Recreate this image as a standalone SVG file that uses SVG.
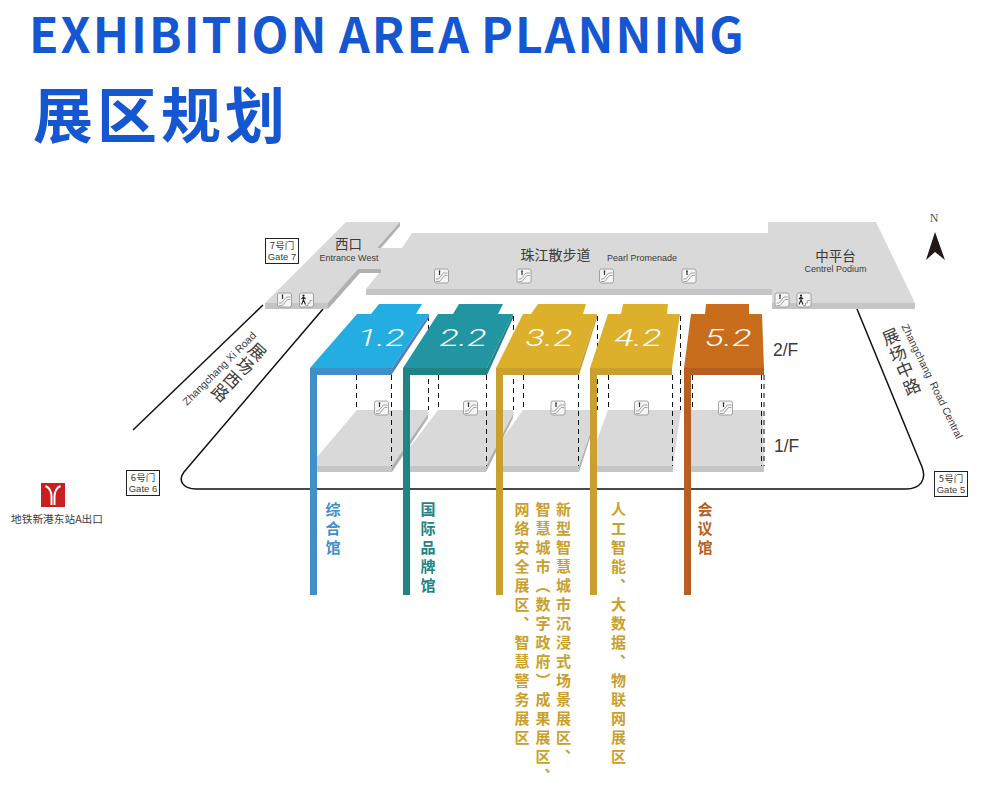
<svg xmlns="http://www.w3.org/2000/svg" xmlns:xlink="http://www.w3.org/1999/xlink" width="1006" height="786" viewBox="0 0 1006 786">
<style>
text{font-family:"Liberation Sans","Noto Sans CJK SC",sans-serif;fill:#3e3a39}
.cjk{font-family:"Noto Sans CJK SC",sans-serif}
.title{font-family:"Noto Sans CJK SC",sans-serif;font-weight:700;fill:#1557d0}
.top{fill:#d9d9d9}.band{fill:#c4c5c5}.side{fill:#b0b0b0}
.en{font-size:9px;text-anchor:middle}
.zh{font-family:"Noto Sans CJK SC",sans-serif;font-size:13.5px;text-anchor:middle}
.gate{font-size:9.5px;text-anchor:middle}
.num{font-family:Roboto,"Liberation Sans",sans-serif;font-weight:300;font-size:24px;font-style:italic;fill:#fff;text-anchor:middle}
.v{font-family:"Noto Sans CJK SC",sans-serif;font-weight:700;font-size:15px;letter-spacing:4px;writing-mode:vertical-rl}
.floor{font-size:17.5px}
.road{fill:none;stroke:#111;stroke-width:1.5}
.dash{stroke:#111;stroke-width:1;stroke-dasharray:5 4;fill:none}
.rz{font-family:"Noto Sans CJK SC",sans-serif;font-size:17px;text-anchor:middle}
</style>
<defs>
<g id="esc">
<rect x="-7" y="-7" width="14" height="14" rx="2" fill="#f5f5f5" stroke="#8f8f8f" stroke-width=".8"/>
<path d="M-5.500 5.500H-2L3 -.5H6M-5.500 3H-3L2 -3H6" fill="none" stroke="#8f8f8f" stroke-width=".8"/>
<path d="M-2 -5V-1" stroke="#333" stroke-width="1.200"/><circle cx="-2" cy="-5" r=".8" fill="#333"/>
</g>
<g id="stair">
<rect x="-7" y="-7" width="14" height="14" rx="2" fill="#f5f5f5" stroke="#8f8f8f" stroke-width=".8"/>
<path d="M-1 5.500H1.500V3H3.500V.5H6" fill="none" stroke="#8f8f8f" stroke-width=".8"/>
<circle cx="-3" cy="-4.500" r="1.100" fill="#222"/>
<path d="M-3 -3L-3 0L-5 4.500M-3 0L-1 4.500M-5 -1L-3 -3L-1 -1" fill="none" stroke="#222" stroke-width="1.100"/>
</g>
</defs>
<rect width="1006" height="786" fill="#fff"/>

<g id="title">
<text class="title" y="53" font-size="48" letter-spacing="2.05"><tspan x="29">EXHIBITION</tspan> <tspan x="339">AREA</tspan> <tspan x="481">PLANNING</tspan></text>
<text class="title" x="33" y="138" font-size="60" letter-spacing="4">展区规划</text>
</g>

<g id="connectors">
<path class="road" d="M133 430L263 305"/>
<path class="road" d="M323 309L184 472C177 481 184 489 196 489H906C920 489 927 480 922 467L857 309"/>
</g>

<g id="floor-1f">
<path class="top" d="M357 410H428V414L392 466H317V457Z"/>
<path class="side" d="M428 410V414L392 466V472L428 418Z"/>
<rect class="band" x="317" y="466" width="75" height="6"/>
<path class="top" d="M438 410H513V414L486 466H410V447Z"/>
<path class="side" d="M513 410V414L486 466V472L513 418Z"/>
<rect class="band" x="410" y="466" width="76" height="6"/>
<path class="top" d="M523 410H590V434L579 466H503V438Z"/>
<path class="side" d="M590 434L579 466V472L590 438Z"/>
<rect class="band" x="503" y="466" width="76" height="6"/>
<path class="top" d="M608 410H681L673 466H597V440Z"/>
<rect class="band" x="597" y="466" width="76" height="6"/>
<path class="top" d="M691 410H763L764 466H691Z"/>
<rect class="band" x="691" y="466" width="73" height="6"/>
</g>

<g id="dashes">
<path class="dash" d="M356.500 375V410M391.500 375V466M428.500 316V410M438.500 375V410M486.500 375V466M513.500 316V410M523.500 375V410M578.500 375V466M597.500 316V410M608.500 375V410M672.500 375V466M680.500 316V410M692.500 375V410M761.500 375V466M764 375V466"/>
</g>

<g id="pearl-promenade">
<path class="top" d="M412 233H768V289H366L382 269H358L381 248H402Z"/>
<rect class="band" x="366" y="289" width="406" height="6"/>
<text class="zh" x="555.500" y="260" style="font-size:14px">珠江散步道</text>
<text class="en" x="642" y="261">Pearl Promenade</text>
<use xlink:href="#esc" href="#esc" x="441.500" y="276"/>
<use xlink:href="#esc" href="#esc" x="524" y="276"/>
<use xlink:href="#esc" href="#esc" x="606.500" y="276"/>
<use xlink:href="#esc" href="#esc" x="689" y="276"/>
</g>

<g id="west-entrance">
<path class="top" d="M265 303L346 222H400L377 248H402V269H358L333 303Z"/>
<path class="side" d="M400 222V226L381 248H377Z"/>
<path class="band" d="M265 303H328V309H265Z"/>
<path class="side" d="M328 309V303L358 269H381V273H360L328 309Z"/>
<text class="zh" x="348.500" y="249">西口</text>
<text class="en" x="349" y="261">Entrance West</text>
<use xlink:href="#esc" href="#esc" x="284.500" y="300"/>
<use xlink:href="#stair" href="#stair" x="306.500" y="300"/>
</g>

<g id="central-podium">
<path class="top" d="M768 222H876L915 303H772V289H768Z"/>
<rect class="band" x="772" y="303" width="143" height="6"/>
<text class="zh" x="835.500" y="261">中平台</text>
<text class="en" x="835.500" y="272">Centrel Podium</text>
<use xlink:href="#esc" href="#esc" x="782" y="300"/>
<use xlink:href="#stair" href="#stair" x="804" y="300"/>
</g>

<g id="hall-1-2">
<rect x="310" y="368" width="7" height="227" fill="#418fc9"/>
<path fill="#24ade0" d="M357 314H371L379 304H422L416 314H429L392 368H310Z"/>
<path fill="#4f7fbf" d="M429 314V318L392 374V368Z"/>
<rect x="310" y="368" width="82" height="7" fill="#418fc9"/>
<text class="num" x="381" y="346" textLength="47" lengthAdjust="spacingAndGlyphs">1.2</text>
<text class="v" x="333" y="502" style="fill:#418fc9">综合馆</text>
</g>

<g id="hall-2-2">
<rect x="403" y="368" width="7" height="227" fill="#208484"/>
<path fill="#2295a3" d="M438 314H453L459 304H503L498 314H513L487 368H403Z"/>
<path fill="#208484" d="M513 314V318L487 375V368Z"/>
<rect x="403" y="368" width="84" height="7" fill="#208484"/>
<text class="num" x="463" y="346" textLength="47" lengthAdjust="spacingAndGlyphs">2.2</text>
<text class="v" x="428" y="502" style="fill:#208484">国际品牌馆</text>
</g>

<g id="hall-3-2">
<rect x="496" y="368" width="7" height="227" fill="#c9a02d"/>
<path fill="#ddb02c" d="M523 314H531L538 304H586L583 314H597L579 368H496Z"/>
<path fill="#c9a02d" d="M597 314V318L579 375V368Z"/>
<rect x="496" y="368" width="83" height="7" fill="#c9a02d"/>
<text class="num" x="549" y="346" textLength="47" lengthAdjust="spacingAndGlyphs">3.2</text>
<text class="v" x="522" y="502" style="fill:#c9a02d">网络安全展区、智慧警务展区</text>
<text class="v" x="543" y="502" style="fill:#c9a02d">智慧城市（数字政府）成果展区、</text>
<text class="v" x="563.500" y="502" style="fill:#c9a02d">新型智慧城市沉浸式场景展区、</text>
</g>

<g id="hall-4-2">
<rect x="590" y="368" width="7" height="227" fill="#c9a02d"/>
<path fill="#ddb02c" d="M608 314H621L623 304H668L667 314H680L672 368H590Z"/>
<rect x="590" y="368" width="82" height="7" fill="#c9a02d"/>
<text class="num" x="638" y="346" textLength="47" lengthAdjust="spacingAndGlyphs">4.2</text>
<text class="v" x="618.500" y="502" style="fill:#c9a02d">人工智能、大数据、物联网展区</text>
</g>

<g id="hall-5-2">
<rect x="684" y="368" width="7" height="227" fill="#b55f21"/>
<path fill="#c86d1c" d="M691 314H705L706 304H749V314H762L764 368H684Z"/>
<rect x="684" y="368" width="80" height="7" fill="#b55f21"/>
<text class="num" x="728" y="346" textLength="47" lengthAdjust="spacingAndGlyphs">5.2</text>
<text class="v" x="705" y="502" style="fill:#b55f21">会议馆</text>
</g>

<g id="escalators-1f">
<use xlink:href="#esc" href="#esc" x="381.500" y="408"/>
<use xlink:href="#esc" href="#esc" x="470.500" y="408"/>
<use xlink:href="#esc" href="#esc" x="558" y="408"/>
<use xlink:href="#esc" href="#esc" x="641.500" y="408"/>
<use xlink:href="#esc" href="#esc" x="725.500" y="408"/>
</g>

<g id="floor-labels">
<text class="floor" x="773" y="356">2/F</text>
<text class="floor" x="774" y="452">1/F</text>
</g>

<g id="gate-7"><rect x="265.500" y="238.500" width="33" height="25" fill="#fff" stroke="#222"/>
<text class="gate cjk" x="282" y="249">7号门</text><text class="gate" x="282" y="260">Gate 7</text></g>
<g id="gate-6"><rect x="126.500" y="470.500" width="33" height="25" fill="#fff" stroke="#222"/>
<text class="gate cjk" x="143" y="481">6号门</text><text class="gate" x="143" y="492">Gate 6</text></g>
<g id="gate-5"><rect x="934.500" y="471.500" width="33" height="25" fill="#fff" stroke="#222"/>
<text class="gate cjk" x="951" y="482">5号门</text><text class="gate" x="951" y="493">Gate 5</text></g>

<g id="metro">
<rect x="41" y="483" width="24" height="24" fill="#c8201f"/>
<path d="M45.500 486C50 488 51.500 492 51.500 497V505M60.500 486C56 488 54.500 492 54.500 497V505" fill="none" stroke="#fff" stroke-width="2"/>
<text class="cjk" x="57" y="523" font-size="10.700" text-anchor="middle">地铁新港东站A出口</text>
</g>

<g id="compass">
<text x="934" y="222" font-size="12" text-anchor="middle" style="font-family:'Liberation Serif',serif;fill:#555">N</text>
<path d="M935 232L945 260L935 252L926 260Z" fill="#231815"/>
</g>

<g id="road-west-label">
<text font-size="10.500" text-anchor="middle" transform="translate(222 371) rotate(-45)">Zhangchang Xi Road</text>
<text class="rz" transform="translate(257 352) rotate(42) translate(0 6)">展</text>
<text class="rz" transform="translate(245 366) rotate(42) translate(0 6)">场</text>
<text class="rz" transform="translate(232 380) rotate(42) translate(0 6)">西</text>
<text class="rz" transform="translate(220 393) rotate(42) translate(0 6)">路</text>
</g>

<g id="road-central-label">
<text font-size="10.500" text-anchor="middle" xml:space="preserve" transform="translate(929 383) rotate(64)">Zhangchang  Road Central</text>
<text class="rz" transform="translate(891 337) rotate(-23) translate(0 6)">展</text>
<text class="rz" transform="translate(898 354) rotate(-23) translate(0 6)">场</text>
<text class="rz" transform="translate(905 370) rotate(-23) translate(0 6)">中</text>
<text class="rz" transform="translate(912 387) rotate(-23) translate(0 6)">路</text>
</g>
</svg>
